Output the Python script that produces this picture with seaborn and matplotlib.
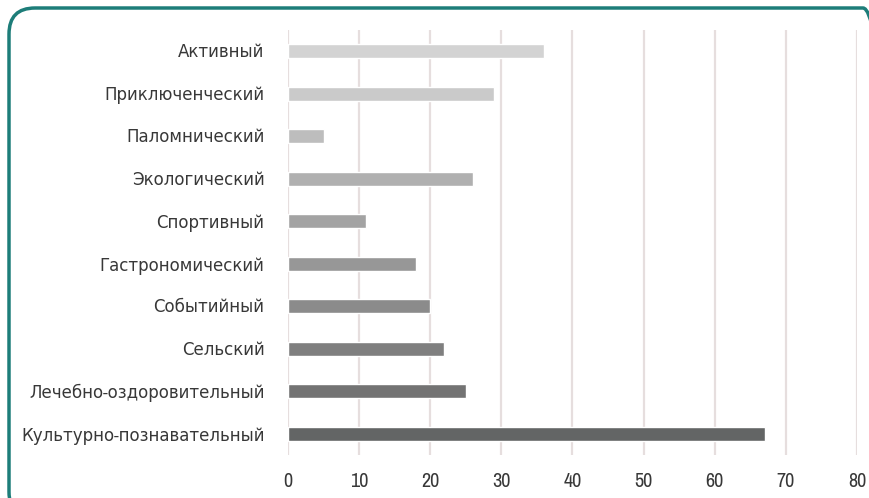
import matplotlib
matplotlib.use("Agg")
import matplotlib.pyplot as plt
from matplotlib import font_manager
from matplotlib.patches import FancyBboxPatch
import seaborn as sns
import pandas as pd

categories = [
    "Активный",
    "Приключенческий",
    "Паломнический",
    "Экологический",
    "Спортивный",
    "Гастрономический",
    "Событийный",
    "Сельский",
    "Лечебно-оздоровительный",
    "Культурно-познавательный",
]
values = [36, 29, 5, 26, 11, 18, 20, 22, 25, 67]
bar_colors = ["#d3d3d3", "#cacaca", "#bdbdbd", "#b0b0b0", "#a3a3a3",
              "#979797", "#8b8b8b", "#7f7f7f", "#737373", "#636565"]
x_ticks = [0, 10, 20, 30, 40, 50, 60, 70, 80]

sns.set_style("white")

# prefer a narrow face for the labels
names = sorted({f.name for f in font_manager.fontManager.ttflist})
narrow = [n for n in names if "Narrow" in n or "Condensed" in n]
family = narrow[0] if narrow else ("Roboto" if "Roboto" in names else "DejaVu Sans")
plt.rcParams["font.family"] = [family, "DejaVu Sans"]

df = pd.DataFrame({"category": categories, "value": values})

fig = plt.figure(figsize=(8.69, 4.98), dpi=100)
ax = fig.add_axes([0.3314, 0.0863, 0.6548, 0.8535])

sns.barplot(data=df, x="value", y="category", hue="category",
            palette=bar_colors, orient="h", width=0.33, legend=False,
            saturation=1, ax=ax)

ax.set_xlim(0, 80)
ax.set_ylim(9.5, -0.5)
ax.set_xticks(x_ticks)
ax.set_xlabel("")
ax.set_ylabel("")
ax.xaxis.grid(True, color="#e6dede", linewidth=1.6)
ax.yaxis.grid(False)
ax.set_axisbelow(True)
for s in ax.spines.values():
    s.set_visible(False)
ax.tick_params(axis="x", length=0, pad=12, labelsize=14.5, labelcolor="#383838")
ax.tick_params(axis="y", length=0, pad=17, labelcolor="#383838")

# size the category labels so the longest one fits the left margin
fig.canvas.draw()
renderer = fig.canvas.get_renderer()
size = 15.0
while size > 8:
    for lab in ax.get_yticklabels():
        lab.set_fontsize(size)
    widest = max(l.get_window_extent(renderer).width for l in ax.get_yticklabels())
    if widest <= 248:
        break
    size -= 0.25

# rounded teal frame around the figure
frame = FancyBboxPatch((9 / 869, -20 / 498), 880 / 869, 510 / 498,
                       boxstyle="round,pad=0,rounding_size=0.03",
                       transform=fig.transFigure, fill=False,
                       edgecolor="#1d7d79", linewidth=2.5, clip_on=False,
                       mutation_aspect=869 / 498)
fig.patches.append(frame)

fig.savefig("out.png", dpi=100)
